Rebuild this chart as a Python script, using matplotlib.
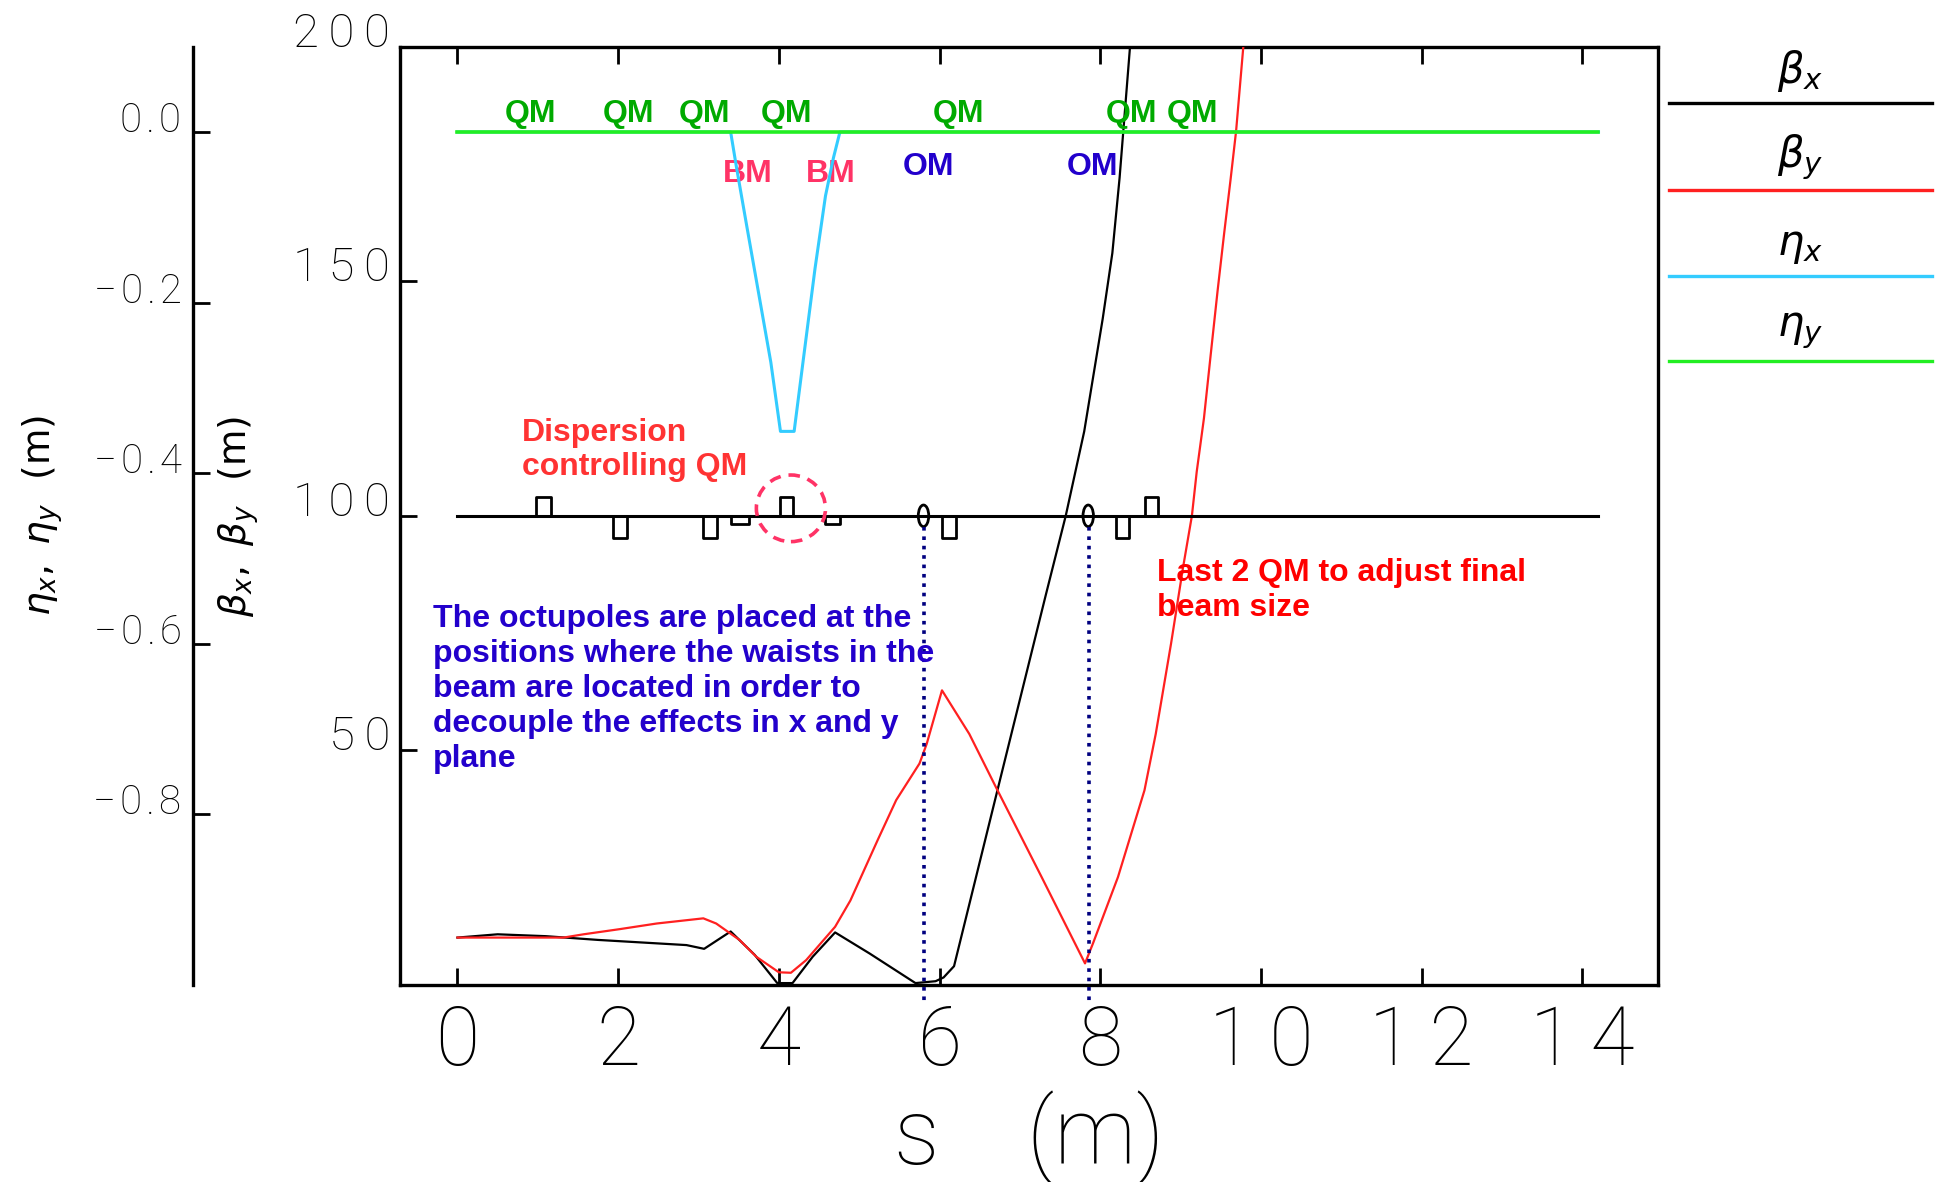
import matplotlib
matplotlib.use("Agg")
import matplotlib.pyplot as plt
from matplotlib.patches import Ellipse
from matplotlib.lines import Line2D

# ---------------- data ----------------
s_beta_x = [0.0, 0.5, 1.1, 1.75, 2.35, 2.85, 3.07, 3.40, 3.70, 3.98, 4.17, 4.42,
            4.70, 5.13, 5.70, 5.95, 6.05, 6.18, 6.72, 7.32, 7.57, 7.80, 8.03,
            8.15, 8.24, 8.37]
beta_x = [10.1, 10.8, 10.4, 9.6, 9.0, 8.5, 7.7, 11.4, 6.4, 0.4, 0.4, 6.0,
          11.2, 6.7, 0.4, 0.8, 1.6, 4.0, 41.5, 83.0, 100.0, 118.0, 142.0,
          156.0, 172.0, 200.0]

s_beta_y = [0.0, 1.32, 1.57, 2.02, 2.48, 3.06, 3.22, 3.51, 3.72, 4.00, 4.15,
            4.34, 4.70, 4.89, 5.23, 5.46, 5.75, 5.84, 6.03, 6.37, 6.70, 7.27,
            7.81, 7.91, 8.22, 8.55, 8.69, 8.88, 9.03, 9.14, 9.20, 9.29, 9.37,
            9.46, 9.54, 9.62, 9.69, 9.78]
beta_y = [10.1, 10.1, 10.8, 11.9, 13.1, 14.2, 13.1, 9.6, 6.0, 2.7, 2.6,
          5.3, 12.4, 18.0, 30.9, 39.4, 47.2, 51.4, 62.8, 53.5, 42.2, 23.0,
          4.6, 8.9, 23.0, 41.5, 53.5, 72.7, 89.0, 100.0, 109.4, 120.8, 133.7,
          148.0, 160.0, 171.5, 182.0, 200.0]

s_eta_x = [0.0, 3.40, 3.47, 3.60, 3.75, 3.90, 4.02, 4.19, 4.30, 4.45,
           4.58, 4.68, 4.76, 14.2]
eta_x = [0.0, 0.0, -0.04, -0.11, -0.19, -0.27, -0.351, -0.351, -0.27,
         -0.16, -0.075, -0.03, 0.0, 0.0]

s_eta_y = [0.0, 14.2]
eta_y = [0.0, 0.0]

# beam-line layout (element start / end / kind)
elem_s0 = [0.98, 1.94, 3.06, 3.40, 4.02, 4.58, 6.03, 8.19, 8.56]
elem_s1 = [1.17, 2.11, 3.23, 3.63, 4.18, 4.76, 6.20, 8.36, 8.72]
elem_kind = ["QF", "QD", "QD", "BM", "QF", "BM", "QD", "QD", "QF"]
om_s = [5.80, 7.85]
layout_s = [0.0, 14.2]

x_ticks = [0, 2, 4, 6, 8, 10, 12, 14]
x_ticklabels = ["0", "2", "4", "6", "8", "10", "12", "14"]
beta_ticks = [50, 100, 150, 200]
beta_ticklabels = ["50", "100", "150", "200"]
eta_ticks = [0.0, -0.2, -0.4, -0.6, -0.8]
eta_ticklabels = ["0.0", "\u22120.2", "\u22120.4", "\u22120.6", "\u22120.8"]

qm_s = [0.91, 2.13, 3.07, 4.09, 6.24, 8.39, 9.15]
bm_s = [3.61, 4.64]
om_label_s = [5.86, 7.90]

legend_labels = [r"$\beta_x$", r"$\beta_y$", r"$\eta_x$", r"$\eta_y$"]
legend_colors = ["black", "#ff2020", "#33ccff", "#22ee22"]

# ---------------- figure ----------------
plt.rcParams["font.family"] = ["DejaVu Sans"]
thin = dict(family=["Roboto", "DejaVu Sans"], weight="light")


def spaced(lbl, sep="\u2009"):
    # the plotting program draws its digits with wide letter spacing
    return sep.join(lbl)


fig = plt.figure(figsize=(19.43, 11.82), dpi=100)
ax = fig.add_axes([0.2059, 0.1667, 0.6474, 0.7938])
ax.set_xlim(-0.714, 14.94)
ax.set_ylim(0, 200)

for sp in ax.spines.values():
    sp.set_linewidth(2.4)

ax.set_xticks(x_ticks, [spaced(l) for l in x_ticklabels], **thin)
ax.set_yticks(beta_ticks, [spaced(l) for l in beta_ticklabels], **thin)
ax.tick_params(axis="both", direction="in", length=12, width=2,
               top=True, right=True)
ax.tick_params(axis="x", labelsize=58, pad=13)
ax.tick_params(axis="y", labelsize=34, pad=7)
for t in ax.get_yticklabels():
    t.set_va("baseline")

ax.set_xlabel("s    (m)", fontsize=66, **thin)
ax.xaxis.set_label_coords(0.5, -0.163)
ax.xaxis.label.set_va("center")
ax.set_ylabel(r"$\beta_x,\ \beta_y\ \ (\mathrm{m})$", fontsize=27)
ax.yaxis.set_label_coords(-0.128, 0.5)
ax.yaxis.label.set_va("center")

# dispersion axis
ax2 = ax.twinx()
ax2.set_ylim(-1.0, 0.1)
ax2.yaxis.set_ticks_position("left")
ax2.yaxis.set_label_position("left")
for k in ["right", "top", "bottom"]:
    ax2.spines[k].set_visible(False)
ax2.spines["left"].set_visible(True)
ax2.spines["left"].set_position(("axes", -0.165))
ax2.spines["left"].set_linewidth(2.4)
ax2.set_yticks(eta_ticks, [spaced(l, "\u200a") for l in eta_ticklabels], **thin)
ax2.tick_params(axis="y", direction="in", length=12, width=2,
                labelsize=29, pad=8)
for t in ax2.get_yticklabels():
    t.set_va("baseline")
ax2.set_ylabel(r"$\eta_x,\ \eta_y\ \ (\mathrm{m})$", fontsize=27)
ax2.yaxis.set_label_coords(-0.284, 0.5)
ax2.yaxis.label.set_va("center")

# beta functions
ax.plot(s_beta_x, beta_x, color="black", lw=1.6, zorder=3)
ax.plot(s_beta_y, beta_y, color="#ff2020", lw=1.6, zorder=3.5)

# dispersion
ax2.plot(s_eta_x, eta_x, color="#33ccff", lw=2.2, zorder=2)
ax2.plot(s_eta_y, eta_y, color="#22ee22", lw=2.6, zorder=3)

# layout line with elements
base = 100
ax.plot(layout_s, [base, base], color="black", lw=2.2, zorder=4)
box_h = {"QF": 4.1, "QD": -4.7, "BM": -1.8}
for s0, s1, k in zip(elem_s0, elem_s1, elem_kind):
    h = box_h[k]
    ax.plot([s0, s0, s1, s1], [base, base + h, base + h, base],
            color="black", lw=2.0, zorder=4)
for s in om_s:
    ax.add_patch(Ellipse((s, base), 0.13, 4.6, fill=False, ec="black",
                         lw=2.0, zorder=4))
    ax.plot([s + 0.01, s + 0.01], [base - 2.3, -3.4], color="#000080",
            lw=2.6, ls=(0, (1, 1.6)), zorder=5, clip_on=False)

# dashed circle around the dispersion-controlling QM
ax.add_patch(Ellipse((4.15, 101.6), 0.86, 14.2, fill=False, ec="#ff3366",
                     lw=2.6, ls=(0, (3.2, 2.2)), zorder=5))

# annotations (va='baseline' aligns the last line)
lab_font = dict(family=["Liberation Sans", "DejaVu Sans"], weight="bold",
                fontsize=23)
for s in qm_s:
    ax.text(s, 184.0, "QM", color="#00aa00", ha="center", va="baseline",
            zorder=6, **lab_font)
for s in bm_s:
    ax.text(s, 171.1, "BM", color="#ff3366", ha="center", va="baseline",
            zorder=6, **lab_font)
for s in om_label_s:
    ax.text(s, 172.7, "OM", color="#2200cc", ha="center", va="baseline",
            zorder=6, **lab_font)

ax.text(0.80, 108.7, "Dispersion\ncontrolling QM", color="#ff3333",
        ha="left", va="baseline", linespacing=1.17, zorder=6, **lab_font)
ax.text(-0.30, 46.5,
        "The octupoles are placed at the\npositions where the waists in the\n"
        "beam are located in order to\ndecouple the effects in x and y\nplane",
        color="#2200cc", ha="left", va="baseline", linespacing=1.22,
        zorder=6, **lab_font)
ax.text(8.71, 78.7, "Last 2 QM to adjust final\nbeam size", color="#ff0000",
        ha="left", va="baseline", linespacing=1.2, zorder=6, **lab_font)

# legend at the right
line_y = [0.9131, 0.8389, 0.7666, 0.6946]
label_y = [0.940, 0.8672, 0.7927, 0.7212]
for lab, col, ly, ty in zip(legend_labels, legend_colors, line_y, label_y):
    fig.add_artist(Line2D([0.859, 0.9943], [ly, ly], color=col, lw=2.4,
                          transform=fig.transFigure))
    fig.text(0.9264, ty, lab, fontsize=30, ha="center", va="center")

fig.savefig("out.png", dpi=100)
